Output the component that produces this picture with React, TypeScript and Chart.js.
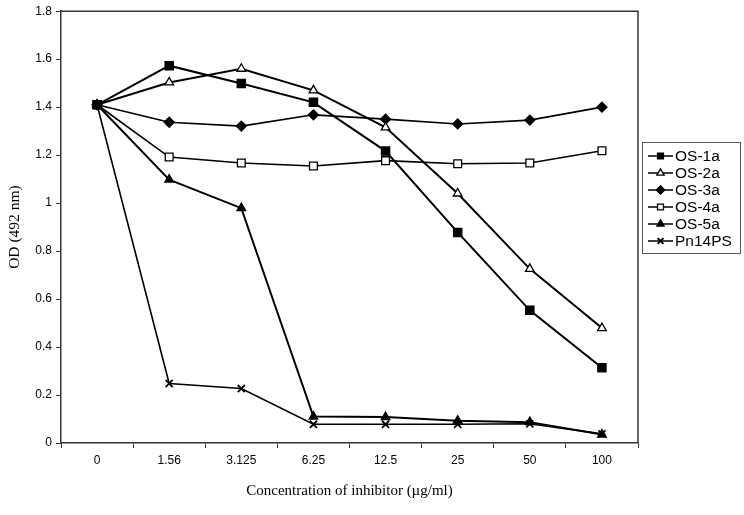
import React, { useEffect, useRef } from "react";
import { Chart, registerables } from "chart.js";

Chart.register(...registerables);

const categories = ["0", "1.56", "3.125", "6.25", "12.5", "25", "50", "100"];
const os1a = [1.41, 1.573, 1.499, 1.42, 1.217, 0.878, 0.553, 0.314];
const os2a = [1.41, 1.503, 1.56, 1.47, 1.316, 1.04, 0.726, 0.479];
const os3a = [1.41, 1.337, 1.321, 1.368, 1.35, 1.33, 1.346, 1.4];
const os4a = [1.41, 1.192, 1.167, 1.155, 1.177, 1.164, 1.167, 1.218];
const os5a = [1.41, 1.098, 0.979, 0.11, 0.108, 0.093, 0.087, 0.035];
const pn14ps = [1.41, 0.248, 0.227, 0.078, 0.078, 0.078, 0.08, 0.038];

const yTitle = "OD (492 nm)";
const xTitle = "Concentration of inhibitor (\u00b5g/ml)";

type Marker = { name: string; data: number[]; style: string; fill: boolean; radius: number; lw: number };

const seriesDefs: Marker[] = [
  { name: "OS-1a", data: os1a, style: "rect", fill: true, radius: 5.8, lw: 2 },
  { name: "OS-2a", data: os2a, style: "triangle", fill: false, radius: 5, lw: 2 },
  { name: "OS-3a", data: os3a, style: "rectRot", fill: true, radius: 5, lw: 1.6 },
  { name: "OS-4a", data: os4a, style: "rect", fill: false, radius: 5.5, lw: 1.6 },
  { name: "OS-5a", data: os5a, style: "triangle", fill: true, radius: 5, lw: 2 },
  { name: "Pn14PS", data: pn14ps, style: "crossRot", fill: false, radius: 5, lw: 1.6 },
];

function drawMarker(ctx: CanvasRenderingContext2D, style: string, fill: boolean, x: number, y: number, r: number) {
  ctx.save();
  ctx.beginPath();
  ctx.lineWidth = 1.3;
  ctx.strokeStyle = "#000";
  ctx.fillStyle = fill ? "#000" : "#fff";
  if (style === "rect") {
    const s = r * Math.SQRT1_2;
    ctx.rect(x - s, y - s, 2 * s, 2 * s);
    ctx.fill();
    ctx.stroke();
  } else if (style === "triangle") {
    const h = r * 1.5;
    const w = r * Math.sqrt(3);
    ctx.moveTo(x, y - r);
    ctx.lineTo(x + w / 2, y - r + h);
    ctx.lineTo(x - w / 2, y - r + h);
    ctx.closePath();
    ctx.fill();
    ctx.stroke();
  } else if (style === "rectRot") {
    ctx.moveTo(x, y - r);
    ctx.lineTo(x + r, y);
    ctx.lineTo(x, y + r);
    ctx.lineTo(x - r, y);
    ctx.closePath();
    ctx.fill();
    ctx.stroke();
  } else if (style === "crossRot") {
    const d = r * Math.SQRT1_2;
    ctx.lineWidth = 1.8;
    ctx.moveTo(x - d, y - d);
    ctx.lineTo(x + d, y + d);
    ctx.moveTo(x + d, y - d);
    ctx.lineTo(x - d, y + d);
    ctx.stroke();
  }
  ctx.restore();
}

const frameAndLegend = {
  id: "frameAndLegend",
  afterDatasetsDraw(chart: any) {
    const ctx: CanvasRenderingContext2D = chart.ctx;
    const a = chart.chartArea;
    ctx.save();
    ctx.strokeStyle = "#333";
    ctx.lineWidth = 1.5;
    ctx.beginPath();
    ctx.moveTo(a.left, a.top);
    ctx.lineTo(a.right, a.top);
    ctx.lineTo(a.right, a.bottom);
    ctx.stroke();
    ctx.restore();
  },
  afterDraw(chart: any) {
    const ctx: CanvasRenderingContext2D = chart.ctx;
    const bx = 642, by = 142, bw = 98, bh = 111;
    ctx.save();
    ctx.strokeStyle = "#555";
    ctx.lineWidth = 1;
    ctx.strokeRect(bx + 0.5, by + 0.5, bw, bh);
    ctx.font = "15.5px 'Liberation Sans', Arial, sans-serif";
    ctx.fillStyle = "#000";
    ctx.textBaseline = "middle";
    seriesDefs.forEach((s, i) => {
      const y = by + 14 + i * 17;
      ctx.beginPath();
      ctx.strokeStyle = "#000";
      ctx.lineWidth = 1.5;
      ctx.moveTo(bx + 6, y);
      ctx.lineTo(bx + 31, y);
      ctx.stroke();
      drawMarker(ctx, s.style, s.fill, bx + 18.5, y, 4.2);
      ctx.fillText(s.name, bx + 33, y + 0.5);
    });
    ctx.restore();
  },
};

export default function App() {
  const ref = useRef<HTMLCanvasElement | null>(null);
  useEffect(() => {
    if (!ref.current) return;
    const chart = new Chart(ref.current, {
      type: "line",
      data: {
        labels: categories,
        datasets: seriesDefs.map((s) => ({
          label: s.name,
          data: s.data,
          borderColor: "#000",
          borderWidth: s.lw,
          backgroundColor: s.fill ? "#000" : "#fff",
          pointStyle: s.style as any,
          pointRadius: s.radius,
          pointBorderWidth: s.style === "crossRot" ? 1.8 : 1.3,
          pointBorderColor: "#000",
          pointBackgroundColor: s.fill ? "#000" : "#fff",
          fill: false,
          tension: 0,
        })),
      },
      options: {
        animation: false,
        responsive: true,
        maintainAspectRatio: false,
        layout: { padding: { top: 7, right: 106, left: 0, bottom: 0 } },
        plugins: { legend: { display: false }, tooltip: { enabled: false } },
        scales: {
          x: {
            type: "category",
            offset: true,
            grid: { offset: true, drawOnChartArea: false, tickLength: 5, color: "#333", lineWidth: 1 },
            border: { color: "#333", width: 1.5 },
            ticks: { color: "#000", font: { family: "'Liberation Sans', Arial, sans-serif", size: 12 }, padding: 5, maxRotation: 0 },
            title: {
              display: true,
              text: xTitle,
              color: "#000",
              font: { family: "'Liberation Serif', 'Times New Roman', serif", size: 15 },
              padding: { top: 0, bottom: 15 },
            },
            afterFit(scale: any) {
              scale.height = 72;
            },
          },
          y: {
            min: 0,
            max: 1.8,
            ticks: {
              stepSize: 0.2,
              color: "#000",
              font: { family: "'Liberation Sans', Arial, sans-serif", size: 12 },
              padding: 4,
              callback: (v: any) => String(Math.round(Number(v) * 10) / 10),
            },
            grid: { drawOnChartArea: false, tickLength: 5, color: "#333" },
            border: { color: "#333", width: 1.5 },
            title: {
              display: true,
              text: yTitle,
              color: "#000",
              font: { family: "'Liberation Serif', 'Times New Roman', serif", size: 15.5 },
              padding: { top: 6, bottom: 0 },
            },
            afterFit(scale: any) {
              scale.width = 61;
            },
          },
        },
      },
      plugins: [frameAndLegend],
    });
    return () => chart.destroy();
  }, []);
  return (
    <div style={{ position: "fixed", left: 0, top: 0, width: 744, height: 515 }}>
      <canvas ref={ref} />
    </div>
  );
}
